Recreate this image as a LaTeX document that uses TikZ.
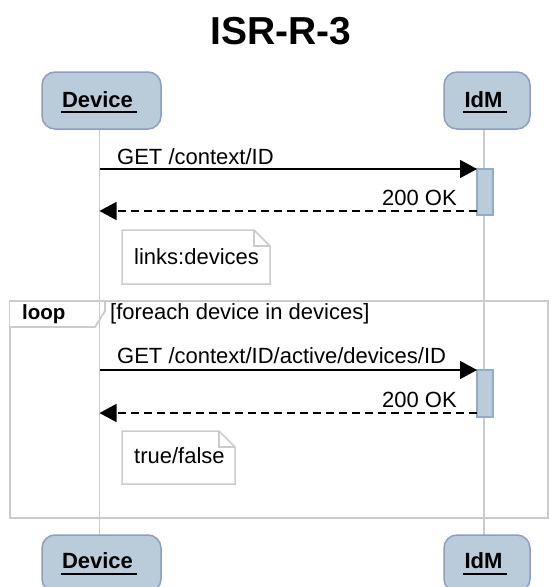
\documentclass[tikz,border=0pt]{standalone}
\usepackage{fontspec}
\setmainfont{Liberation Sans}
\usetikzlibrary{arrows.meta}
\definecolor{partfill}{HTML}{BACCD9}
\definecolor{partdraw}{HTML}{8D9DC6}
\definecolor{actdraw}{HTML}{92AACB}
\definecolor{lifegray}{HTML}{CCCCCC}
\definecolor{notegray}{HTML}{CCCCCC}
\tikzset{
  partbox/.style={draw=partdraw, fill=partfill, line width=1.5pt, rounded corners=13pt, minimum width=119pt, minimum height=57pt, inner sep=0pt},
  partboxs/.style={partbox, minimum width=86pt},
  ptext/.style={font=\bfseries\fontsize{22}{24}\selectfont, inner sep=0pt, anchor=base},
  uline/.style={line width=1.6pt, black},
  life/.style={draw=lifegray, line width=1.5pt},
  msg/.style={line width=1.5pt, -{Triangle[length=17pt,width=18pt]}},
  ret/.style={line width=1.5pt, dash pattern=on 8pt off 5pt, -{Triangle[length=17pt,width=18pt]}},
  mtext/.style={font=\fontsize{22}{24}\selectfont, inner sep=0pt},
  act/.style={draw=actdraw, fill=partfill, line width=1.2pt, minimum width=16pt, inner sep=0pt},
  notebox/.style={draw=notegray, fill=white, line width=1.5pt},
  frame/.style={draw=lifegray, line width=1.8pt},
}
\begin{document}
\begin{tikzpicture}[x=1pt,y=-1pt]
\useasboundingbox (0,0) rectangle (549,587);
\clip (0,0) rectangle (549,587);
% title
\node[font=\bfseries\fontsize{39}{42}\selectfont, inner sep=0pt, anchor=base] (title) at (281,44) {ISR-R-3};
% loop frame
\draw[frame] (10,301) rectangle (548,518);
\draw[frame, fill=white] (10,301) -- (105,301) -- (105,311) -- (95,327) -- (10,327);
\node[font=\bfseries\fontsize{20.5}{22}\selectfont, inner sep=0pt, anchor=base west] (looplbl) at (22,319) {loop};
\node[mtext, anchor=base west] (guard) at (110,319) {[foreach device in devices]};
% lifelines
\coordinate (dT) at (99.5,129);
\coordinate (dB) at (99.5,535);
\coordinate (iT) at (484,129);
\coordinate (iB) at (484,535);
\draw[life] (dT) -- (dB);
\draw[life] (iT) -- (iB);
% participants
\node[partbox] (devT) at (101.5,100.5) {};
\node[partbox] (devB) at (101.5,563.5) {};
\node[partboxs] (idmT) at (487,100.5) {};
\node[partboxs] (idmB) at (487,563.5) {};
\node[ptext] (devTl) at (97.5,107) {Device};
\node[ptext] (devBl) at (97.5,568) {Device};
\node[ptext] (idmTl) at (483.5,107) {IdM};
\node[ptext] (idmBl) at (483.5,568) {IdM};
\draw[uline] (61,112) -- (137,112);
\draw[uline] (61,574) -- (137,574);
\draw[uline] (463,112) -- (507,112);
\draw[uline] (463,574) -- (507,574);
% activations
\node[act, minimum height=46pt] (a1) at (485,192) {};
\node[act, minimum height=47pt] (a2) at (485,393.5) {};
% notes
\draw[notebox] (122,230) -- (254,230) -- (270,246) -- (270,284) -- (122,284) -- cycle;
\draw[notebox, fill=none] (254,230) -- (254,246) -- (270,246);
\node[mtext, anchor=base west] (n1) at (134,264) {links:devices};
\draw[notebox] (122,431) -- (219,431) -- (235,447) -- (235,484) -- (122,484) -- cycle;
\draw[notebox, fill=none] (219,431) -- (219,447) -- (235,447);
\node[mtext, anchor=base west] (n2) at (134,463) {true/false};
% messages
\coordinate (m1s) at (99.5,169);
\coordinate (m1e) at (477,169);
\coordinate (r1s) at (477,211);
\coordinate (r1e) at (99.5,211);
\coordinate (m2s) at (99.5,370);
\coordinate (m2e) at (477,370);
\coordinate (r2s) at (477,413);
\coordinate (r2e) at (99.5,413);
\draw[msg] (m1s) -- (m1e);
\draw[ret] (r1s) -- (r1e);
\draw[msg] (m2s) -- (m2e);
\draw[ret] (r2s) -- (r2e);
\node[mtext, anchor=base west] (l1) at (117,164) {GET /context/ID};
\node[mtext, anchor=base east] (l2) at (457,205) {200 OK};
\node[mtext, anchor=base west] (l3) at (117,363) {GET /context/ID/active/devices/ID};
\node[mtext, anchor=base east] (l4) at (457,407) {200 OK};
\end{tikzpicture}
\end{document}
